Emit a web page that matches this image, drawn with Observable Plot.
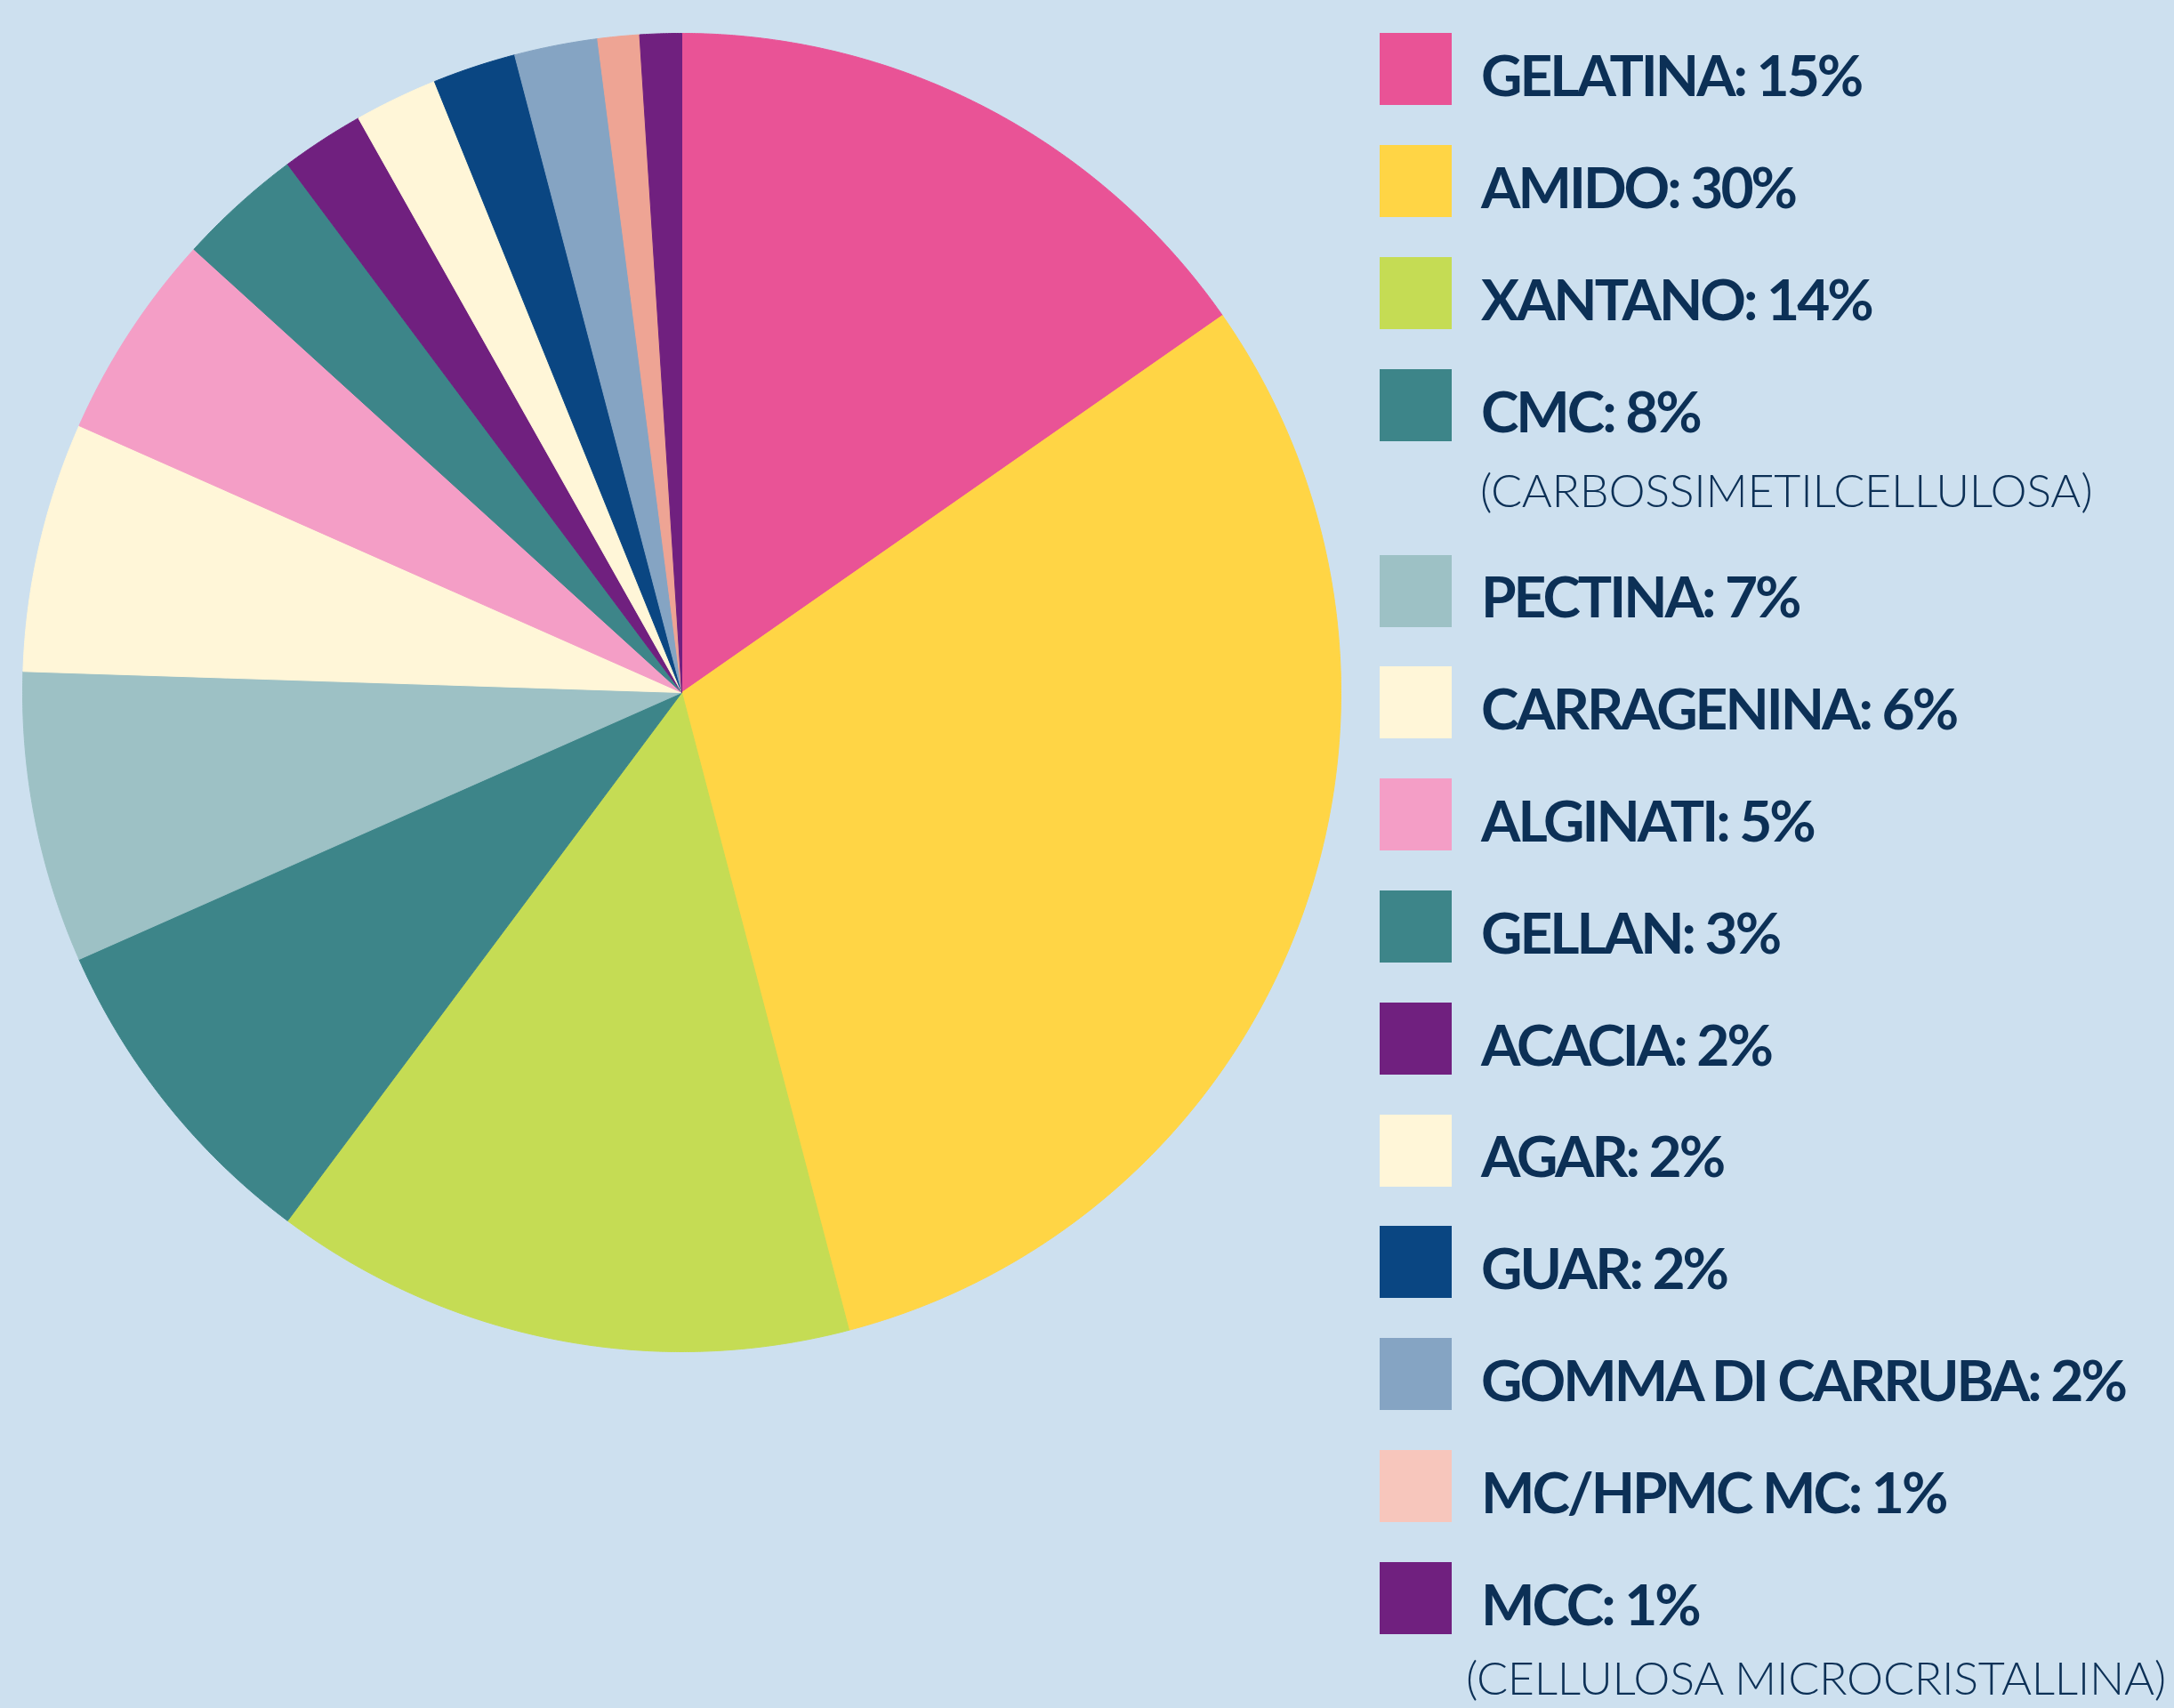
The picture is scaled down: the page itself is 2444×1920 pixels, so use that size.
<!DOCTYPE html>
<html>
<head>
<meta charset="utf-8">
<script src="https://cdn.jsdelivr.net/npm/d3@7"></script>
<script src="https://cdn.jsdelivr.net/npm/@observablehq/plot@0.6"></script>
<style>
  html, body { margin: 0; padding: 0; background: #cde0ef; }
  #wrap { position: relative; width: 2444px; height: 1920px; overflow: hidden; background: #cde0ef; }
  #chart { position: absolute; left: 0; top: 0; }
  .sw { position: absolute; width: 81px; height: 81px; }
  .lab { position: absolute; font-family: Lato, "Noto Sans", sans-serif; font-weight: 700; font-size: 64px;
         letter-spacing: -3px; line-height: 1.2; color: #0c3056; white-space: nowrap; }
  .note { position: absolute; font-family: Lato, "Noto Sans", sans-serif; font-weight: 300; font-size: 52px;
          letter-spacing: -0.3px; line-height: 1; color: #0c3056; white-space: nowrap; }
</style>
</head>
<body>
<div id="wrap"><div id="chart"></div><div id="legend"></div></div>
<script>
// ---- data ----
const names = ["GELATINA", "AMIDO", "XANTANO", "CMC", "PECTINA", "CARRAGENINA", "ALGINATI",
               "GELLAN", "ACACIA", "AGAR", "GUAR", "GOMMA DI CARRUBA", "MC/HPMC MC", "MCC"];
const values = [15, 30, 14, 8, 7, 6, 5, 3, 2, 2, 2, 2, 1, 1];
const notes = ["", "", "", "(CARBOSSIMETILCELLULOSA)", "", "", "", "", "", "", "", "", "", "(CELLULOSA MICROCRISTALLINA)"];
const sliceColors = ["#e95396", "#ffd545", "#c5dc54", "#3d8589", "#9dc1c5", "#fff6d8", "#f49ec6",
                     "#3d8589", "#70207f", "#fff6d8", "#0a4682", "#85a4c3", "#eea494", "#70207f"];
const swatchColors = ["#e95396", "#ffd545", "#c5dc54", "#3d8589", "#9dc1c5", "#fff6d8", "#f49ec6",
                      "#3d8589", "#70207f", "#fff6d8", "#0a4682", "#85a4c3", "#f7c6bc", "#70207f"];

// ---- pie geometry in unit-circle data space ----
const arcs = d3.pie().sort(null).value(d => d)(values);
const pts = [];
arcs.forEach((a, i) => {
  const step = Math.PI / 720;
  const n = Math.max(2, Math.ceil((a.endAngle - a.startAngle) / step));
  pts.push({name: names[i], fill: sliceColors[i], x: 0, y: 0});
  for (let k = 0; k <= n; k++) {
    const t = a.startAngle + (a.endAngle - a.startAngle) * k / n;
    pts.push({name: names[i], fill: sliceColors[i], x: Math.sin(t), y: Math.cos(t)});
  }
  pts.push({name: names[i], fill: sliceColors[i], x: 0, y: 0});
});

const R = 741;
const chart = Plot.plot({
  width: 1540,
  height: 1920,
  marginLeft: 25,
  marginRight: 1540 - 25 - 2 * R,
  marginTop: 37,
  marginBottom: 1920 - 37 - 2 * R,
  style: {background: "transparent", overflow: "visible"},
  x: {domain: [-1, 1], axis: null},
  y: {domain: [-1, 1], axis: null},
  color: {type: "identity"},
  marks: [
    Plot.line(pts, {x: "x", y: "y", z: "name", fill: "fill", stroke: "fill", strokeWidth: 1, curve: "linear"})
  ]
});
document.getElementById("chart").appendChild(chart);

// ---- legend ----
const legend = document.getElementById("legend");
const lx = 1551, tx = 1665, top0 = 37.3, rowH = 125.8, noteGap = 83;
let extra = 0;
names.forEach((nm, i) => {
  const top = top0 + i * rowH + extra;
  const sw = document.createElement("div");
  sw.className = "sw";
  sw.style.left = lx + "px";
  sw.style.top = top + "px";
  sw.style.background = swatchColors[i];
  legend.appendChild(sw);
  const lab = document.createElement("div");
  lab.className = "lab";
  lab.textContent = nm + ": " + values[i] + "%";
  lab.style.left = tx + "px";
  lab.style.top = (top + 72 - 0.987 * 64) + "px";
  legend.appendChild(lab);
  if (notes[i]) {
    const nt = document.createElement("div");
    nt.className = "note";
    nt.textContent = notes[i];
    nt.style.left = (i === names.length - 1 ? 1648 : 1664) + "px";
    // line-height 1 => baseline sits 0.887em below the box top; keep the parentheses inside the page
    const baseline = Math.min(top + 155, 1905);
    nt.style.top = (baseline - 0.887 * 52) + "px";
    legend.appendChild(nt);
    extra += noteGap;
  }
});
</script>
</body>
</html>
